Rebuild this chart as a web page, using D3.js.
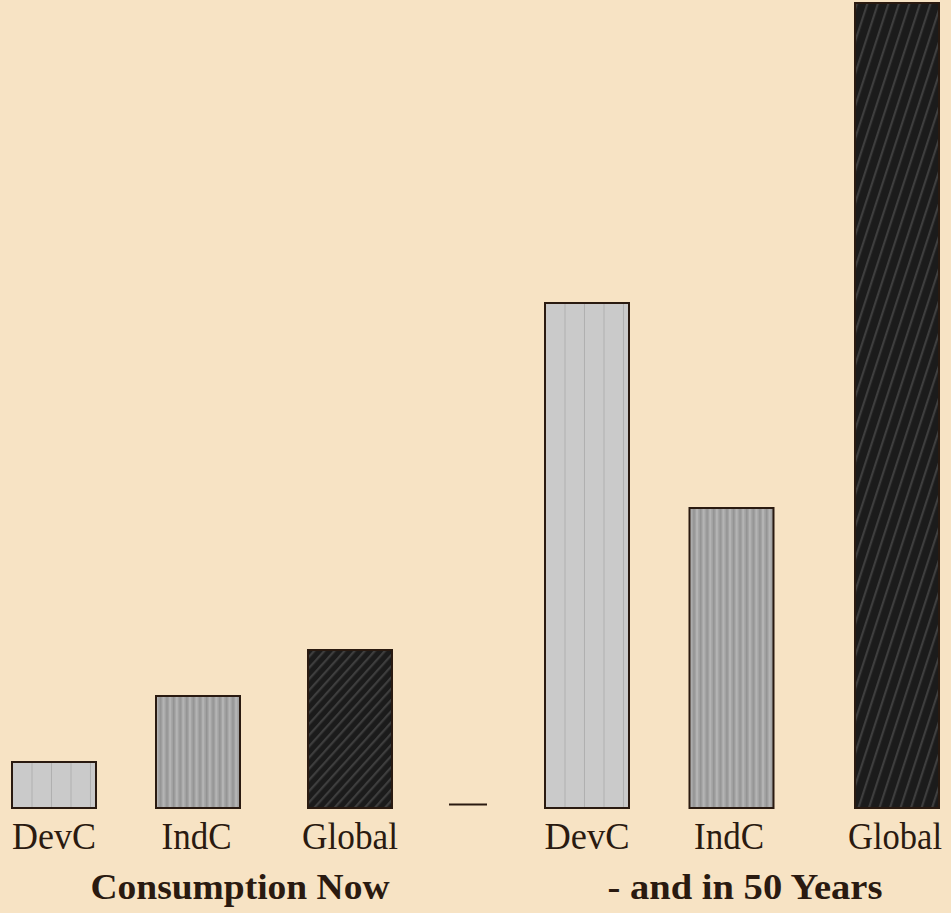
<!DOCTYPE html>
<html>
<head>
<meta charset="utf-8">
<script src="https://cdn.jsdelivr.net/npm/d3@7/dist/d3.min.js"></script>
<style>
  html, body { margin: 0; padding: 0; background: #F7E3C4; }
  svg { display: block; }
</style>
</head>
<body>
<div id="chart"></div>
<script>
// Consumption by region, now and projected in 50 years
const categories = ["DevC", "IndC", "Global"];
const consumptionNow = [46, 112, 158];
const consumptionIn50 = [505, 300, 805];
const groupTitles = ["Consumption Now", "- and in 50 Years"];

const W = 951, H = 913;
const baseY = 808, topY = 3;
const barW = 84;

const svg = d3.select("#chart").append("svg")
  .attr("width", W).attr("height", H);

svg.append("rect").attr("width", W).attr("height", H).attr("fill", "#F7E3C4");

const y = d3.scaleLinear().domain([0, 805]).range([baseY, topY]);

// Bar centres for each group of three
const xNow = d3.scaleOrdinal().domain(categories).range([54, 198, 350]);
const xLater = d3.scaleOrdinal().domain(categories).range([587, 731.5, 897]);

const groups = [
  { key: "now", scale: xNow, values: consumptionNow, title: groupTitles[0], titleX: 240,
    labelDx: [0, -1.5, 0], labelW: [84, 70, 96] },
  { key: "later", scale: xLater, values: consumptionIn50, title: groupTitles[1], titleX: 745,
    labelDx: [0, -2.5, -2], labelW: [85, 70, 94] }
];

const defs = svg.append("defs");

function makePattern(id, cat, left, steep) {
  const p = defs.append("pattern").attr("id", id).attr("patternUnits", "userSpaceOnUse");
  if (cat === "DevC") {
    p.attr("x", left + 1).attr("y", 0).attr("width", 19.5).attr("height", 10);
    p.append("rect").attr("width", 19.5).attr("height", 10).attr("fill", "#CACACA");
    p.append("rect").attr("x", 18.5).attr("width", 1.6).attr("height", 10).attr("fill", "#B0B0B0");
  } else if (cat === "IndC") {
    p.attr("x", left).attr("y", 0).attr("width", 6.6).attr("height", 10);
    p.append("rect").attr("width", 6.6).attr("height", 10).attr("fill", "#A4A4A4");
    p.append("rect").attr("x", 0).attr("width", 2).attr("height", 10).attr("fill", "#B4B4B4");
    p.append("rect").attr("x", 3.6).attr("width", 1.6).attr("height", 10).attr("fill", "#939393");
  } else {
    // dark fill with slanted hatching, steeper on the tall bar
    const sp = steep ? 10 : 7.5;
    p.attr("x", left).attr("y", 0).attr("width", sp).attr("height", sp)
      .attr("patternTransform", steep ? "rotate(18)" : "rotate(42)");
    p.append("rect").attr("width", sp).attr("height", sp).attr("fill", "#1B1B1B");
    p.append("rect").attr("x", 0).attr("width", 2.2).attr("height", sp).attr("fill", "#3E3E3E");
  }
  return id;
}

const ink = "#2A1A10";

groups.forEach(g => {
  const gg = svg.append("g");
  categories.forEach((c, i) => {
    const cx = g.scale(c);
    const left = cx - barW / 2;
    const pid = makePattern(`pat-${g.key}-${i}`, c, left, g.key === "later");
    gg.append("rect")
      .attr("x", left)
      .attr("y", y(g.values[i]))
      .attr("width", barW)
      .attr("height", baseY - y(g.values[i]))
      .attr("fill", `url(#${pid})`)
      .attr("stroke", ink)
      .attr("stroke-width", 2);
    gg.append("text")
      .attr("x", cx + g.labelDx[i])
      .attr("y", 849)
      .attr("text-anchor", "middle")
      .attr("font-family", "Liberation Serif, Times New Roman, serif")
      .attr("font-size", 37)
      .attr("fill", ink)
      .attr("textLength", g.labelW[i])
      .attr("lengthAdjust", "spacingAndGlyphs")
      .text(c);
  });
  gg.append("text")
    .attr("x", g.titleX)
    .attr("y", 899)
    .attr("text-anchor", "middle")
    .attr("font-family", "Liberation Serif, Times New Roman, serif")
    .attr("font-weight", "bold")
    .attr("font-size", 35)
    .attr("fill", ink)
    .attr("textLength", g.key === "now" ? 299 : 275)
    .attr("lengthAdjust", "spacingAndGlyphs")
    .text(g.title);
});

// Short dash separating the two groups
svg.append("line")
  .attr("x1", 449).attr("x2", 487)
  .attr("y1", 804.5).attr("y2", 804.5)
  .attr("stroke", ink).attr("stroke-width", 2);
</script>
</body>
</html>
